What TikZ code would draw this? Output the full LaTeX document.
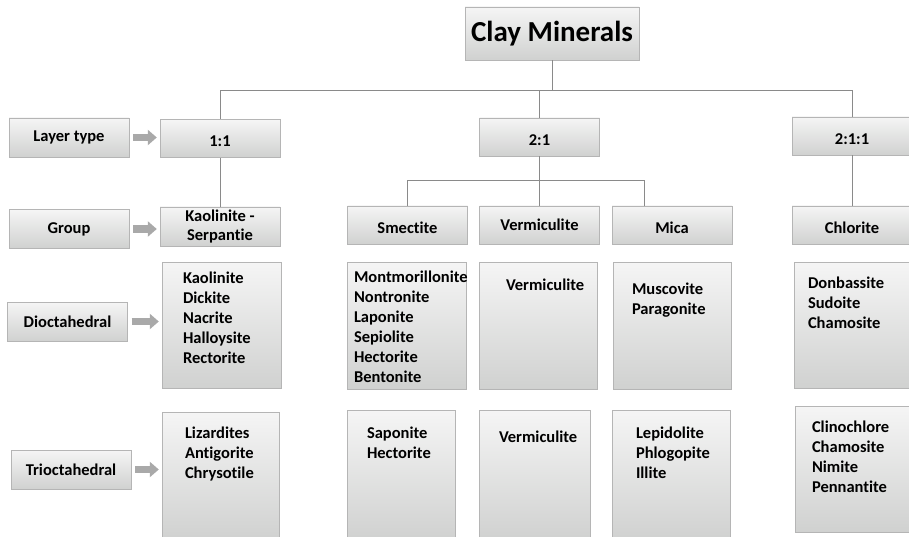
\documentclass[tikz,border=0pt]{standalone}
\usepackage{fontspec}
\setmainfont[Ligatures=NoCommon]{Carlito}
\usepackage{xcolor}
\usepackage{tikz}
\usetikzlibrary{positioning, arrows.meta}
\definecolor{boxtop}{HTML}{F5F5F5}
\definecolor{boxbottom}{HTML}{D0D1D0}
\definecolor{boxline}{HTML}{B5B5B5}
\definecolor{treeline}{HTML}{8A8A8A}
\definecolor{arrowgray}{HTML}{A9A9A9}

\tikzset{
  box/.style={draw=boxline, top color=boxtop, bottom color=boxbottom, inner sep=0pt,
              align=center, font=\bfseries\fontsize{16.5}{19}\selectfont},
  rowlabel/.style={box, minimum width=120pt, minimum height=39pt},
  headbox/.style={box, minimum width=120pt, minimum height=38pt},
  lowtext/.style={text height=17pt, text depth=0pt},
  listbox/.style={draw=boxline, top color=boxtop, bottom color=boxbottom, inner sep=0pt},
  listtext/.style={inner sep=0pt, align=left, font=\bfseries\fontsize{16.5}{20}\selectfont},
  tree/.style={draw=treeline, line width=0.6pt},
  blockarrow/.style={draw=arrowgray, line width=7pt, -{Triangle[length=9pt, width=15pt]},
                     shorten <=4pt, shorten >=3pt}
}

\begin{document}
\begin{tikzpicture}[x=1pt, y=-1pt]
  \useasboundingbox (0,0) rectangle (909,537);

  % title
  \node[box, minimum width=174pt, minimum height=53pt,
        font=\bfseries\fontsize{29}{33}\selectfont] (clay) at (552,33.5) {Clay Minerals};

  % row labels
  \node[rowlabel] (layer) at (69,137.5) {Layer type};
  \node[rowlabel] (group) at (69,229) {Group};
  \node[rowlabel] (dioct) at (67.5,321.5) {Dioctahedral};
  \node[rowlabel] (trioct) at (71,469.5) {Trioctahedral};

  % layer types
  \node[headbox, lowtext] (l11) at (220,138.5) {1:1};
  \node[headbox, lowtext] (l21) at (539.5,137) {2:1};
  \node[headbox, lowtext] (l211) at (852,136) {2:1:1};

  % groups
  \node[headbox, minimum height=39pt] (kaol) at (220,226.5) {Kaolinite -\\Serpantie};
  \node[headbox, lowtext] (smec) at (407.5,225) {Smectite};
  \node[headbox] (verm) at (539.5,225) {Vermiculite};
  \node[headbox, lowtext] (mica) at (672,225) {Mica};
  \node[headbox, lowtext] (chl) at (852,225) {Chlorite};

  % dioctahedral members
  \node[listbox, minimum width=119pt, minimum height=126pt] (dkaol) at (221.5,325) {};
  \node[listtext, below right=10pt and 21pt of dkaol.north west]
    {Kaolinite\\Dickite\\Nacrite\\Halloysite\\Rectorite};
  \node[listbox, minimum width=119pt, minimum height=127pt] (dsmec) at (406.5,325.5) {};
  \node[listtext, below right=9pt and 7pt of dsmec.north west]
    {Montmorillonite\\Nontronite\\Laponite\\Sepiolite\\Hectorite\\Bentonite};
  \node[listbox, minimum width=118pt, minimum height=127pt] (dverm) at (538,325.5) {};
  \node[listtext, below right=17pt and 27pt of dverm.north west] {Vermiculite};
  \node[listbox, minimum width=118pt, minimum height=127pt] (dmica) at (672,325.5) {};
  \node[listtext, below right=21pt and 19pt of dmica.north west] {Muscovite\\Paragonite};
  \node[listbox, minimum width=118pt, minimum height=126pt] (dchl) at (853,325) {};
  \node[listtext, below right=15pt and 14pt of dchl.north west]
    {Donbassite\\Sudoite\\Chamosite};

  % trioctahedral members
  \node[listbox, minimum width=117pt, minimum height=128pt] (tkaol) at (220.5,476) {};
  \node[listtext, below right=15pt and 23pt of tkaol.north west]
    {Lizardites\\Antigorite\\Chrysotile};
  \node[listbox, minimum width=108pt, minimum height=130pt] (tsmec) at (401,475) {};
  \node[listtext, below right=17pt and 20pt of tsmec.north west] {Saponite\\Hectorite};
  \node[listbox, minimum width=111pt, minimum height=130pt] (tverm) at (534.5,475) {};
  \node[listtext, below right=21pt and 20pt of tverm.north west] {Vermiculite};
  \node[listbox, minimum width=118pt, minimum height=130pt] (tmica) at (671,475) {};
  \node[listtext, below right=17pt and 24pt of tmica.north west]
    {Lepidolite\\Phlogopite\\Illite};
  \node[listbox, minimum width=117pt, minimum height=126pt] (tchl) at (853.5,469) {};
  \node[listtext, below right=15pt and 17pt of tchl.north west]
    {Clinochlore\\Chamosite\\Nimite\\Pennantite};

  % tree lines
  \draw[tree] (clay.south) -- ++(0,30) coordinate (top);
  \draw[tree] (top) -| (l11.north);
  \draw[tree] (top) -| (l211.north);
  \draw[tree] (l21.north) |- (top);
  \draw[tree] (l11) -- (kaol);
  \draw[tree] (l21.south) -- ++(0,24) coordinate (mid);
  \draw[tree] (mid) -| (smec.north);
  \draw[tree] (mid) -| ([xshift=32pt]mica.north west);
  \draw[tree] (mid) -- (verm.north);
  \draw[tree] (l211) -- (chl);

  % row arrows
  \draw[blockarrow] (layer.east) -- (layer.east -| l11.west);
  \draw[blockarrow] (group.east) -- (group.east -| kaol.west);
  \draw[blockarrow] (dioct.east) -- (dioct.east -| dkaol.west);
  \draw[blockarrow] (trioct.east) -- (trioct.east -| tkaol.west);
\end{tikzpicture}
\end{document}
